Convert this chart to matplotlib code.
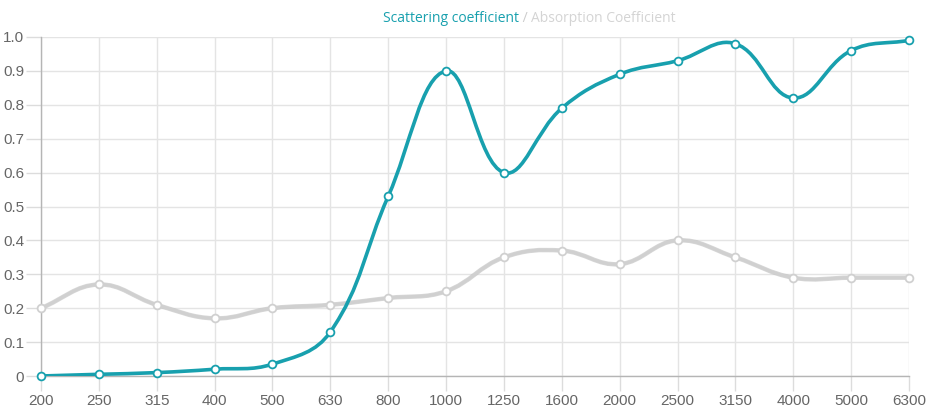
import matplotlib.pyplot as plt
import numpy as np
from matplotlib.path import Path
from matplotlib.patches import PathPatch

# frequencies (Hz) and coefficients
freqs = ['200', '250', '315', '400', '500', '630', '800', '1000', '1250',
         '1600', '2000', '2500', '3150', '4000', '5000', '6300']
scattering = [0.0, 0.005, 0.01, 0.02, 0.035, 0.13, 0.53, 0.90, 0.60,
              0.79, 0.89, 0.93, 0.98, 0.82, 0.96, 0.99]
absorption = [0.20, 0.27, 0.21, 0.17, 0.20, 0.21, 0.23, 0.25, 0.35,
              0.37, 0.33, 0.40, 0.35, 0.29, 0.29, 0.29]
yticks = [0, 0.1, 0.2, 0.3, 0.4, 0.5, 0.6, 0.7, 0.8, 0.9, 1.0]
ylabels = ['0', '0.1', '0.2', '0.3', '0.4', '0.5', '0.6', '0.7', '0.8', '0.9', '1.0']

teal = '#18a0ae'
grey = '#d0d0d0'

W, H = 928, 407
fig = plt.figure(figsize=(W / 100, H / 100), dpi=100)
left, right, top, bottom = 41, 909, 37, 376
ax = fig.add_axes([left / W, 1 - bottom / H, (right - left) / W, (bottom - top) / H])

x = np.arange(len(freqs))
ax.set_xlim(0, len(freqs) - 1)
ax.set_ylim(0, 1)


def spline_path(xs, ys, tension=0.4):
    # chart.js style bezier, computed in pixel space
    px = (right - left) / (len(xs) - 1)
    py = (bottom - top)
    P = np.column_stack([np.asarray(xs) * px, np.asarray(ys) * py])
    n = len(P)
    verts = [P[0]]
    codes = [Path.MOVETO]
    cps = []
    for i in range(n):
        p0 = P[i - 1] if i > 0 else P[i]
        p1 = P[i]
        p2 = P[i + 1] if i < n - 1 else P[i]
        d01 = np.hypot(*(p1 - p0))
        d12 = np.hypot(*(p2 - p1))
        tot = d01 + d12
        s01 = d01 / tot if tot else 0
        s12 = d12 / tot if tot else 0
        cp_prev = p1 - tension * s01 * (p2 - p0)
        cp_next = p1 + tension * s12 * (p2 - p0)
        cp_prev[1] = np.clip(cp_prev[1], 0, py)
        cp_next[1] = np.clip(cp_next[1], 0, py)
        cps.append((cp_prev, cp_next))
    for i in range(1, n):
        verts += [cps[i - 1][1], cps[i][0], P[i]]
        codes += [Path.CURVE4] * 3
    verts = np.array(verts)
    verts[:, 0] /= px
    verts[:, 1] /= py
    return Path(verts, codes)


for yv in yticks:
    ax.axhline(yv, color='#e4e4e4', lw=1, zorder=0)
for xv in x:
    ax.axvline(xv, color='#e4e4e4', lw=1, zorder=0)

ax.add_patch(PathPatch(spline_path(x, absorption), fill=False, ec='#bdbdbd', lw=3.2,
                       capstyle='round', joinstyle='round', zorder=2, alpha=0.6))
ax.add_patch(PathPatch(spline_path(x, absorption), fill=False, ec=grey, lw=2.2,
                       capstyle='round', joinstyle='round', zorder=2))
ax.add_patch(PathPatch(spline_path(x, scattering), fill=False, ec=teal, lw=2.6,
                       capstyle='round', joinstyle='round', zorder=3))
ax.plot(x, absorption, 'o', ms=5.6, mfc='white', mec=grey, mew=1.3, zorder=4, clip_on=False)
ax.plot(x, scattering, 'o', ms=5.6, mfc='white', mec=teal, mew=1.3, zorder=5, clip_on=False)

ax.set_xticks(x)
ax.set_xticklabels(freqs)
ax.set_yticks(yticks)
ax.set_yticklabels(ylabels)
ax.tick_params(axis='both', colors='#dcdcdc', labelcolor='#666666', labelsize=11,
               length=11, width=1)
for lab in ax.get_xticklabels() + ax.get_yticklabels():
    lab.set_family('Liberation Sans')
ax.tick_params(axis='y', pad=1)
ax.tick_params(axis='x', pad=2)
for s in ['top', 'right']:
    ax.spines[s].set_visible(False)
for s in ['left', 'bottom']:
    ax.spines[s].set_color('#b5b5b5')
    ax.spines[s].set_linewidth(1)

# legend-style title in three colours
fig.canvas.draw()
r = fig.canvas.get_renderer()
xpos = 383
for txt, col in [('Scattering coefficient', teal), (' / ', '#cccccc'),
                 ('Absorption Coefficient', '#d4d4d4')]:
    t = fig.text(xpos / W, 1 - 18 / H, txt, color=col, fontsize=10,
                 family='Open Sans', ha='left', va='center')
    xpos = t.get_window_extent(r).x1

fig.savefig('out.png', dpi=100)
